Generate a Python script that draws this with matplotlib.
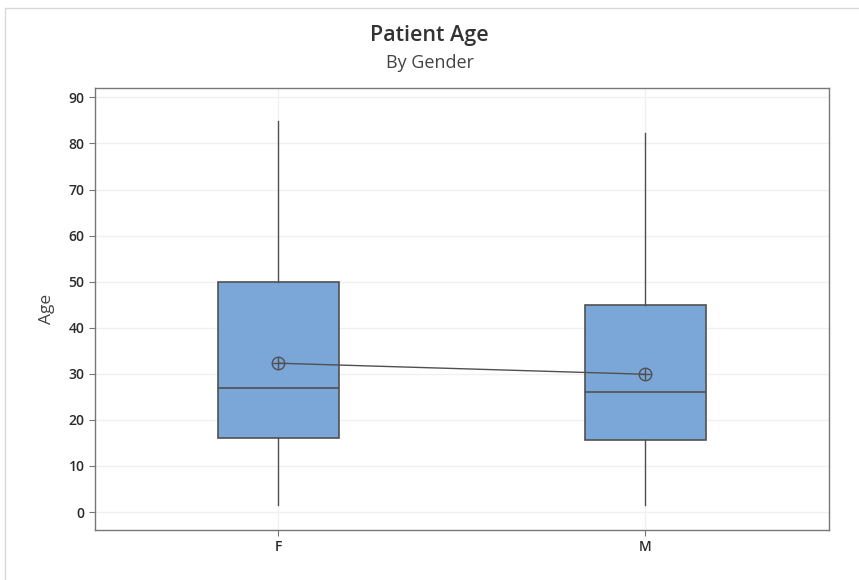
import matplotlib.pyplot as plt
from matplotlib.patches import Rectangle

# values
genders = ['F', 'M']
whisker_low = [1.5, 1.5]
q1 = [16.0, 15.6]
medians = [27.0, 26.0]
q3 = [50.0, 45.0]
whisker_high = [84.8, 82.3]
means = [32.3, 29.9]
y_ticks = [0, 10, 20, 30, 40, 50, 60, 70, 80, 90]

plt.rcParams['font.family'] = ['Open Sans', 'DejaVu Sans']

fig = plt.figure(figsize=(8.59, 5.8), dpi=100)
ax = fig.add_axes([0.1106, 0.0862, 0.8544, 0.7618])

# light frame around the whole graph
fig.patches.append(Rectangle((0.006, -0.01), 1.0, 0.997, transform=fig.transFigure,
                             fill=False, edgecolor='#d8d8d8', linewidth=1))

stats = []
for i, g in enumerate(genders):
    stats.append({'label': g, 'whislo': whisker_low[i], 'q1': q1[i], 'med': medians[i],
                  'q3': q3[i], 'whishi': whisker_high[i], 'fliers': []})

positions = [1, 2]
ax.bxp(stats, positions=positions, widths=0.33, patch_artist=True, showcaps=False,
       boxprops=dict(facecolor='#7ba6d8', edgecolor='#505050', linewidth=1.2),
       medianprops=dict(color='#505050', linewidth=1.2),
       whiskerprops=dict(color='#505050', linewidth=1.0))

# mean connect line with circle-plus symbols
ax.plot(positions, means, color='#505050', linewidth=1.0, zorder=4)
ax.plot(positions, means, linestyle='none', marker='o', markersize=9,
        markerfacecolor='none', markeredgecolor='#505050', markeredgewidth=1.0, zorder=5)
ax.plot(positions, means, linestyle='none', marker='+', markersize=9,
        color='#505050', markeredgewidth=1.0, zorder=5)

ax.set_xlim(0.5, 2.5)
ax.set_ylim(-3.9, 92)
ax.set_yticks(y_ticks)
ax.set_xticks(positions)
ax.set_xticklabels(genders)
ax.tick_params(axis='both', labelsize=10, labelcolor='#2a2a2a', length=4, width=0.8,
               color='#777777')
for lab in ax.get_xticklabels() + ax.get_yticklabels():
    lab.set_fontweight('semibold')
ax.grid(True, color='#f0f0f0', linewidth=1.0)
ax.set_axisbelow(True)
for s in ax.spines.values():
    s.set_color('#777777')
    s.set_linewidth(1.0)

ax.set_ylabel('Age', fontsize=12.5, color='#444444', labelpad=10)

fig.text(0.5, 0.938, 'Patient Age', ha='center', va='center', fontsize=15.5,
         fontweight='semibold', color='#333333')
fig.text(0.5, 0.892, 'By Gender', ha='center', va='center', fontsize=13, color='#444444')

fig.savefig('out.png', dpi=100)
